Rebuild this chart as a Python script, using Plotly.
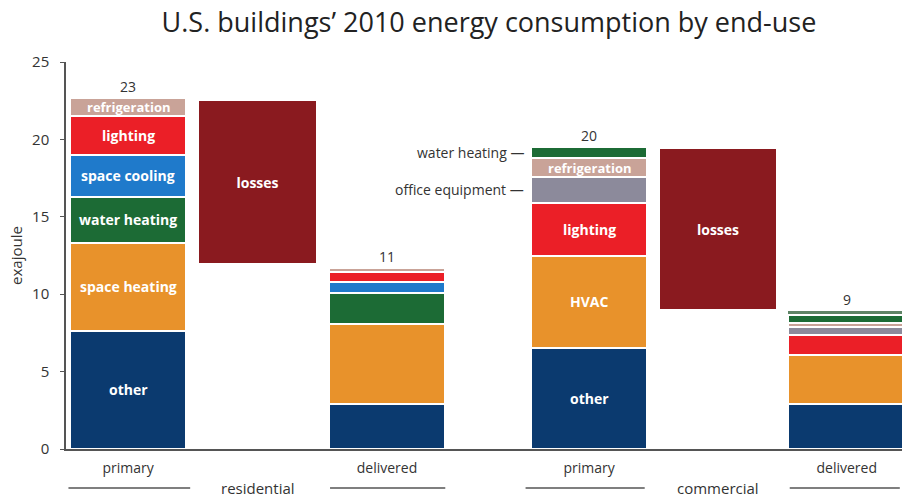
import plotly.graph_objects as go

# ---------------- data ----------------
# bar positions: residential primary / losses / delivered, commercial primary / losses / delivered
pos_res_primary, pos_res_losses, pos_res_delivered = 0.0, 1.0, 2.0
pos_com_primary, pos_com_losses, pos_com_delivered = 3.56, 4.555, 5.55

stack_x = [pos_res_primary, pos_res_delivered, pos_com_primary, pos_com_delivered]
stack_ticktext = ["primary", "delivered", "primary", "delivered"]

# exajoule values
other        = [7.65, 2.9, 6.55, 2.9]
heating      = [5.65, 5.2, 5.95, 3.17]   # space heating (res) / HVAC (com)
res_water    = [3.0, 2.0]                 # residential water heating
res_cooling  = [2.7, 0.7]                 # residential space cooling
lighting     = [2.5, 0.63, 3.4, 1.29]
com_office   = [1.67, 0.49]               # commercial office equipment
refrigeration = [1.2, 0.27, 1.23, 0.29]
com_water    = [0.7, 0.51]                # commercial water heating
com_extra    = [0.27]                     # thin top strip on commercial delivered

loss_x = [pos_res_losses, pos_com_losses]
loss_base = [12.0, 9.05]
loss_height = [10.5, 10.35]

totals_text = ["23", "11", "20", "9"]

colors = {
    "other": "#0b3a6f",
    "heating": "#e8922b",
    "water": "#1c6b35",
    "cooling": "#1f7acb",
    "lighting": "#eb1f27",
    "office": "#8c8a9b",
    "refrig": "#c9a398",
    "extra": "#5f8466",
    "losses": "#8a1a1f",
}

BAR_W = 0.9
GAP = dict(color="white", width=2.5)

fig = go.Figure()

def add_stack(name, xs, ys, color, line=GAP):
    fig.add_trace(go.Bar(
        x=xs, y=ys, name=name, width=BAR_W,
        marker=dict(color=color, line=line),
        hoverinfo="skip", showlegend=False,
    ))

add_stack("other", stack_x, other, colors["other"])
add_stack("heating", stack_x, heating, colors["heating"])
add_stack("water heating (res)", [pos_res_primary, pos_res_delivered], res_water, colors["water"])
add_stack("space cooling", [pos_res_primary, pos_res_delivered], res_cooling, colors["cooling"])
add_stack("lighting", stack_x, lighting, colors["lighting"])
add_stack("office equipment", [pos_com_primary, pos_com_delivered], com_office, colors["office"])
add_stack("refrigeration", stack_x, refrigeration, colors["refrig"])
add_stack("water heating (com)", [pos_com_primary, pos_com_delivered], com_water, colors["water"])
add_stack("extra", [pos_com_delivered], com_extra, colors["extra"], line=dict(color="white", width=1.5))

fig.add_trace(go.Bar(
    x=loss_x, y=loss_height, base=loss_base, width=BAR_W, name="losses",
    marker=dict(color=colors["losses"], line=dict(width=0)),
    text=["losses", "losses"], textposition="inside", insidetextanchor="middle",
    textfont=dict(family="Open Sans", size=14, color="white", weight="bold"),
    hoverinfo="skip", showlegend=False,
))

annotations = []
label_font = dict(family="Open Sans", size=14, color="white", weight="bold")

def seg_label(x, bottom, height, text, size=14):
    f = dict(label_font)
    f["size"] = size
    annotations.append(dict(x=x, y=bottom + height / 2, text=text, showarrow=False,
                            xref="x", yref="y", font=f))

# residential primary labels
b = 0
res_p_segments = [(other[0], "other"), (heating[0], "space heating"), (res_water[0], "water heating"),
                  (res_cooling[0], "space cooling"), (lighting[0], "lighting"),
                  (refrigeration[0], "refrigeration")]
for h, t in res_p_segments:
    seg_label(pos_res_primary, b, h, t, 13 if t == "refrigeration" else 14)
    b += h
# commercial primary labels
b = 0
com_p_segments = [(other[2], "other"), (heating[2], "HVAC"), (lighting[2], "lighting"),
                  (com_office[0], ""), (refrigeration[2], "refrigeration"), (com_water[0], "")]
com_bounds = []
for h, t in com_p_segments:
    if t:
        seg_label(pos_com_primary, b, h, t, 13 if t == "refrigeration" else 14)
    com_bounds.append((b, h))
    b += h

# side labels for thin commercial segments
side_font = dict(family="Open Sans", size=14, color="#333333")
ob, oh = com_bounds[3]
wb, wh = com_bounds[5]
annotations.append(dict(x=pos_com_primary - BAR_W / 2 - 0.04, y=wb + wh / 2, text="water heating —",
                        showarrow=False, xanchor="right", font=side_font))
annotations.append(dict(x=pos_com_primary - BAR_W / 2 - 0.04, y=ob + oh / 2, text="office equipment —",
                        showarrow=False, xanchor="right", font=side_font))

# totals above stacks
tot = [other[0] + heating[0] + res_water[0] + res_cooling[0] + lighting[0] + refrigeration[0],
       other[1] + heating[1] + res_water[1] + res_cooling[1] + lighting[1] + refrigeration[1],
       other[2] + heating[2] + lighting[2] + com_office[0] + refrigeration[2] + com_water[0],
       other[3] + heating[3] + lighting[3] + com_office[1] + refrigeration[3] + com_water[1] + com_extra[0]]
for x, t, s in zip(stack_x, tot, totals_text):
    annotations.append(dict(x=x, y=t, text=s, showarrow=False, yanchor="bottom", yshift=0,
                            font=dict(family="Open Sans", size=14, color="#333333")))

# group labels with side lines
grp_y = -0.101
grp_font = dict(family="Open Sans", size=15, color="#333333")
annotations.append(dict(x=pos_res_losses, y=grp_y, yref="paper", text="residential", showarrow=False,
                        font=grp_font, yanchor="middle"))
annotations.append(dict(x=pos_com_losses, y=grp_y, yref="paper", text="commercial", showarrow=False,
                        font=grp_font, yanchor="middle"))
shapes = []
for x0, x1 in [(-0.46, 0.48), (1.56, 2.45), (3.07, 3.99), (5.11, 5.96)]:
    shapes.append(dict(type="line", xref="x", yref="paper", x0=x0, x1=x1, y0=grp_y, y1=grp_y,
                       line=dict(color="#555555", width=1.5)))

fig.update_layout(
    width=902, height=498,
    margin=dict(l=66, r=0, t=62, b=49),
    paper_bgcolor="white", plot_bgcolor="white",
    barmode="stack", bargap=0,
    title=dict(text="U.S. buildings’ 2010 energy consumption by end-use",
               x=489 / 902, xanchor="center", y=1 - 23 / 498, yanchor="middle",
               font=dict(family="Open Sans", size=27, color="#222222")),
    annotations=annotations,
    shapes=shapes,
    font=dict(family="Open Sans", color="#333333"),
)
fig.update_xaxes(range=[-0.479, 5.977], tickvals=stack_x, ticktext=stack_ticktext,
                 showgrid=False, zeroline=False, showline=True, linecolor="#555555", linewidth=1.5,
                 ticks="", tickfont=dict(family="Open Sans", size=14, color="#333333"),
                 ticklabelstandoff=5)
fig.update_yaxes(range=[0, 25], tickvals=[0, 5, 10, 15, 20, 25], showgrid=False, zeroline=False,
                 showline=True, linecolor="#555555", linewidth=1.5, ticks="outside", ticklen=4,
                 tickcolor="#555555", tickfont=dict(family="Open Sans", size=15, color="#333333"),
                 ticklabelstandoff=8,
                 title=dict(text="exajoule", font=dict(family="Open Sans", size=15, color="#333333"),
                            standoff=6))

fig.write_html("out.html")
